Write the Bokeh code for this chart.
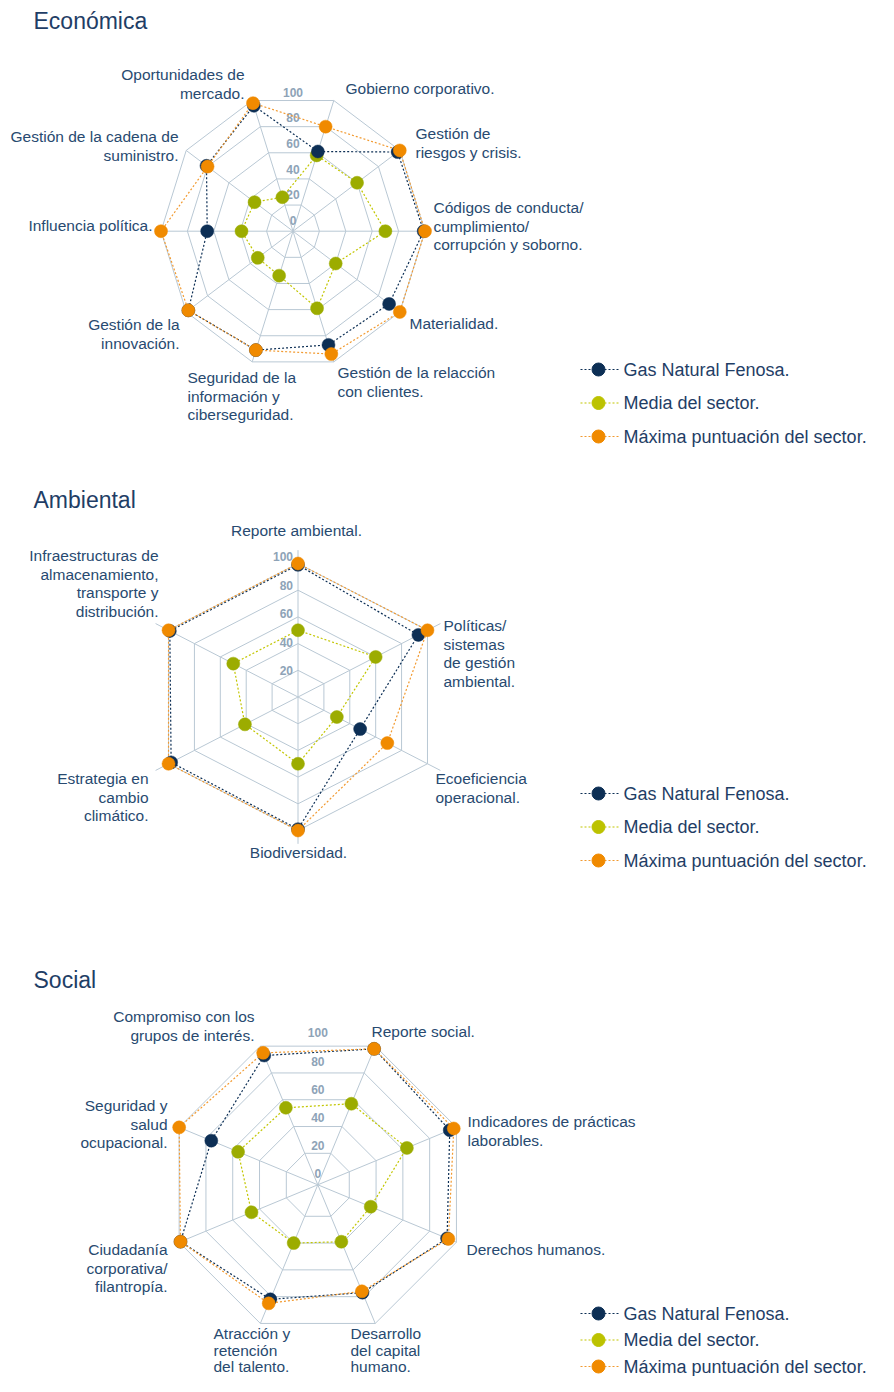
import math
from bokeh.plotting import figure
from bokeh.models import Range1d, ColumnDataSource
from bokeh.embed import file_html
from bokeh.resources import INLINE
from bokeh.core.properties import value

# ---------------- DATA ----------------
series_names = ["Gas Natural Fenosa.", "Media del sector.", "Máxima puntuación del sector."]
tick_labels = [0, 20, 40, 60, 80, 100]
ring_levels = [20, 40, 60, 80, 100]

eco_title = "Económica"
eco_categories = [
    "Oportunidades de\nmercado.",
    "Gobierno corporativo.",
    "Gestión de\nriesgos y crisis.",
    "Códigos de conducta/\ncumplimiento/\ncorrupción y soborno.",
    "Materialidad.",
    "Gestión de la relacción\ncon clientes.",
    "Seguridad de la\ninformación y\nciberseguridad.",
    "Gestión de la\ninnovación.",
    "Influencia política.",
    "Gestión de la cadena de\nsuministro.",
]
eco_gnf = [96, 61, 98, 99, 90, 87, 91, 98, 65, 81]
eco_media = [26, 58, 60, 70, 40, 59, 34, 33, 39, 36]
eco_max = [98, 80, 100, 100, 100, 94, 91, 98, 100, 80]

amb_title = "Ambiental"
amb_categories = [
    "Reporte ambiental.",
    "Políticas/\nsistemas\nde gestión\nambiental.",
    "Ecoeficiencia\noperacional.",
    "Biodiversidad.",
    "Estrategia en\ncambio\nclimático.",
    "Infraestructuras de\nalmacenamiento,\ntransporte y\ndistribución.",
]
amb_gnf = [99, 93, 48, 99, 98, 99]
amb_media = [50, 60, 30, 50, 41, 50]
amb_max = [100, 100, 69, 100, 100, 100]

soc_title = "Social"
soc_categories = [
    "Compromiso con los\ngrupos de interés.",
    "Reporte social.",
    "Indicadores de prácticas\nlaborables.",
    "Derechos humanos.",
    "Desarrollo\ndel capital\nhumano.",
    "Atracción y\nretención\ndel talento.",
    "Ciudadanía\ncorporativa/\nfilantropía.",
    "Seguridad y\nsalud\nocupacional.",
]
soc_gnf = [93, 98, 95, 93, 77, 82, 99, 76]
soc_media = [54, 57, 63, 36, 39, 40, 46, 56]
soc_max = [95, 98, 98, 94, 76, 85, 99, 100]

# ---------------- STYLE / LAYOUT ----------------
NAVY = "#0d2f55"
GREEN = "#9cac00"
GREEN_LINE = "#c2c600"
GREEN_LEG = "#bcc200"
ORANGE = "#f08a00"
ORANGE_LINE = "#f29a30"
GRID = "#b9c8d4"
TICK = "#8ea3b7"
LABEL = "#284a70"
TITLE = "#1f3e66"
FONT = "Liberation Sans"
DASH = "2 2"

W, H = 878, 1376
p = figure(width=W, height=H, output_backend="svg", toolbar_location=None,
           x_range=Range1d(0, W), y_range=Range1d(H, 0),
           x_axis_type=None, y_axis_type=None, min_border=0,
           background_fill_color="white", border_fill_color="white")
p.outline_line_color = None
p.grid.visible = False

# label layout: (x, y of first line, align, line spacing)
charts = [
    dict(title=eco_title, title_y=20, cats=eco_categories,
         series=[eco_gnf, eco_media, eco_max],
         cx=292.5, cy=230.7, sx=1.32, sy=1.374, off=0.0, start=108.0,
         spoke=100, tick_a=11, tick_b=1.28, ticks=tick_labels, tick_align="center", tick_dx=0,
         legend_y=369, legend_dy=33.5,
         labels=[(244, 74, "right", 18.5), (345, 88, "left", 18.5), (415, 133, "left", 18.5),
                 (433, 207, "left", 18.5), (409, 323, "left", 18.5), (337, 372, "left", 18.5),
                 (187, 377, "left", 18.5), (179, 324, "right", 18.5), (152, 225, "right", 18.5),
                 (178, 136, "right", 18.5)]),
    dict(title=amb_title, title_y=499, cats=amb_categories,
         series=[amb_gnf, amb_media, amb_max],
         cx=297.5, cy=696.5, sx=1.495, sy=1.335, off=0.0, start=90.0,
         spoke=110, tick_a=-2, tick_b=1.425, ticks=tick_labels[1:], tick_align="right", tick_dx=-5,
         legend_y=793, legend_dy=33.5,
         labels=[(296, 530, "center", 18.5), (443, 625, "left", 18.5), (435, 778, "left", 18.5),
                 (298, 852, "center", 18.5), (148, 778, "right", 18.5), (158, 555, "right", 18.5)]),
    dict(title=soc_title, title_y=979, cats=soc_categories,
         series=[soc_gnf, soc_media, soc_max],
         cx=317.3, cy=1184.3, sx=1.45, sy=1.45, off=3.5, start=112.5,
         spoke=100, tick_a=11, tick_b=1.41, ticks=tick_labels, tick_align="center", tick_dx=0,
         legend_y=1313, legend_dy=26.5,
         labels=[(254, 1016, "right", 18.5), (371, 1031, "left", 18.5), (467, 1121, "left", 18.5),
                 (466, 1249, "left", 18.5), (350, 1333, "left", 16.5), (213, 1333, "left", 16.5),
                 (167, 1249, "right", 18.5), (167, 1105, "right", 18.5)]),
]

series_styles = [
    (NAVY, NAVY),
    (GREEN, GREEN_LINE),
    (ORANGE, ORANGE_LINE),
]
legend_dot_colors = [NAVY, GREEN_LEG, ORANGE]
draw_order = [1, 0, 2]


def polar(c, v, i, n):
    ang = math.radians(c["start"] - 360.0 / n * i)
    r = v + c["off"]
    return c["cx"] + r * c["sx"] * math.cos(ang), c["cy"] - r * c["sy"] * math.sin(ang)


for c in charts:
    n = len(c["cats"])
    # rings
    xs, ys = [], []
    for lv in ring_levels:
        pts = [polar(c, lv, i, n) for i in range(n)]
        xs.append([q[0] for q in pts] + [pts[0][0]])
        ys.append([q[1] for q in pts] + [pts[0][1]])
    p.multi_line(xs, ys, line_color=GRID, line_width=1)
    # spokes
    sxs, sys_ = [], []
    for i in range(n):
        x0, y0 = polar(c, -c["off"], i, n)
        x1, y1 = polar(c, c["spoke"], i, n)
        sxs.append([x0, x1])
        sys_.append([y0, y1])
    p.multi_line(sxs, sys_, line_color=GRID, line_width=1)
    # tick labels
    tx = [c["cx"] + c["tick_dx"]] * len(c["ticks"])
    ty = [c["cy"] - (c["tick_a"] + c["tick_b"] * t) for t in c["ticks"]]
    p.text(x=tx, y=ty, text=[str(t) for t in c["ticks"]], text_align=c["tick_align"],
           text_baseline="middle", text_font=value(FONT), text_font_style="bold",
           text_font_size="12px", text_color=TICK)
    # series
    for si in draw_order:
        vals = c["series"][si]
        pts = [polar(c, v, i, n) for i, v in enumerate(vals)]
        px = [q[0] for q in pts]
        py = [q[1] for q in pts]
        dot_col, line_col = series_styles[si]
        p.line(px + [px[0]], py + [py[0]], line_color=line_col, line_width=1.2, line_dash=DASH)
        p.scatter(px, py, size=13, fill_color=dot_col, line_color=dot_col, line_width=0.5)
    # category labels
    lx, ly, lt, la = [], [], [], []
    for cat, (x, y, al, lh) in zip(c["cats"], c["labels"]):
        for k, line in enumerate(cat.split("\n")):
            lx.append(x)
            ly.append(y + k * lh)
            lt.append(line)
            la.append(al)
    src = ColumnDataSource(dict(x=lx, y=ly, text=lt, align=la))
    p.text(x="x", y="y", text="text", text_align="align", source=src, text_baseline="middle",
           text_font=value(FONT), text_font_size="15.5px", text_color=LABEL)
    # title
    p.text(x=[33], y=[c["title_y"]], text=[c["title"]], text_baseline="middle", text_align="left",
           text_font=value(FONT), text_font_size="23px", text_color=TITLE)
    # legend
    for k, name in enumerate(series_names):
        yy = c["legend_y"] + k * c["legend_dy"]
        dot_col, line_col = series_styles[k]
        if k == 1:
            dot_col = legend_dot_colors[1]
        p.line([580, 618], [yy, yy], line_color=line_col, line_width=1.2, line_dash=DASH)
        p.scatter([598], [yy], size=13, fill_color=dot_col, line_color=dot_col)
        p.text(x=[623], y=[yy], text=[name], text_baseline="middle", text_align="left",
               text_font=value(FONT), text_font_size="18px", text_color=TITLE)

open("out.html", "w").write(file_html(p, INLINE))
